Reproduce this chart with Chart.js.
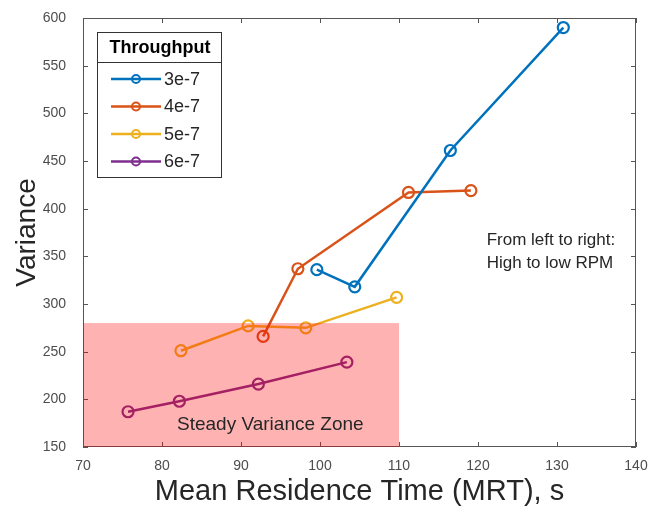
<!DOCTYPE html>
<html>
<head>
<meta charset="utf-8">
<script src="https://cdn.jsdelivr.net/npm/chart.js@4/dist/chart.umd.min.js"></script>
<style>
  html, body { margin: 0; padding: 0; background: #fff; }
  #wrap { width: 649px; height: 511px; }
</style>
</head>
<body>
<div id="wrap"><canvas id="mrtChart" width="649" height="511"></canvas></div>
<script>
// values
var seriesLabels = ['3e-7', '4e-7', '5e-7', '6e-7'];
var mrt3 = [99.6, 104.4, 116.5, 130.8];
var var3 = [336, 318, 461, 590];
var mrt4 = [92.8, 97.2, 111.2, 119.1];
var var4 = [266, 337, 417, 419];
var mrt5 = [82.4, 90.9, 98.2, 109.7];
var var5 = [251, 277, 275, 307];
var mrt6 = [75.7, 82.2, 92.2, 103.4];
var var6 = [187, 198, 216, 239];
var xTicks = [70, 80, 90, 100, 110, 120, 130, 140];
var yTicks = [150, 200, 250, 300, 350, 400, 450, 500, 550, 600];
var zoneX = [70, 110];
var zoneY = [150, 280];

var colors = ['#0072BD', '#D95319', '#EDB120', '#7E2F8E'];
var FONT = '"Liberation Sans", Arial, Helvetica, sans-serif';

function pts(xs, ys) {
    return xs.map(function(x, i) { return { x: x, y: ys[i] }; });
}

function makeSet(i, xs, ys) {
    return {
        label: seriesLabels[i],
        data: pts(xs, ys),
        borderColor: colors[i],
        backgroundColor: 'rgba(0,0,0,0)',
        pointBorderColor: colors[i],
        pointBackgroundColor: 'rgba(0,0,0,0)',
        borderWidth: 2.5,
        pointRadius: 5.5,
        pointBorderWidth: 2.2,
        fill: false,
        tension: 0
    };
}

// frame with inward ticks, drawn before the lines so the zone tints it
var framePlugin = {
    id: 'frame',
    beforeDatasetsDraw: function(chart) {
        var c = chart.ctx, a = chart.chartArea;
        var xs = chart.scales.x, ys = chart.scales.y;
        c.save();
        c.strokeStyle = '#555555';
        c.lineWidth = 1;
        c.strokeRect(a.left + 0.5, a.top + 0.5, a.right - a.left - 1, a.bottom - a.top - 1);
        c.beginPath();
        xTicks.forEach(function(v) {
            var px = Math.round(xs.getPixelForValue(v)) + 0.5;
            c.moveTo(px, a.bottom); c.lineTo(px, a.bottom - 5);
            c.moveTo(px, a.top); c.lineTo(px, a.top + 5);
        });
        yTicks.forEach(function(v) {
            var py = Math.round(ys.getPixelForValue(v)) + 0.5;
            c.moveTo(a.left, py); c.lineTo(a.left + 5, py);
            c.moveTo(a.right, py); c.lineTo(a.right - 5, py);
        });
        c.stroke();
        c.restore();
    }
};

// shaded zone over the lines, plus the two notes
var zonePlugin = {
    id: 'zone',
    afterDatasetsDraw: function(chart) {
        var c = chart.ctx;
        var xs = chart.scales.x, ys = chart.scales.y;
        var x0 = xs.getPixelForValue(zoneX[0]), x1 = xs.getPixelForValue(zoneX[1]);
        var y0 = ys.getPixelForValue(zoneY[1]), y1 = ys.getPixelForValue(zoneY[0]);
        c.save();
        c.fillStyle = 'rgba(255,0,0,0.3)';
        c.fillRect(x0, y0, x1 - x0, y1 - y0);

        c.fillStyle = '#262626';
        c.textBaseline = 'middle';
        c.textAlign = 'left';
        c.font = '19px ' + FONT;
        c.fillText('Steady Variance Zone', xs.getPixelForValue(81.9), ys.getPixelForValue(173));
        c.font = '17px ' + FONT;
        c.fillText('From left to right:', xs.getPixelForValue(121.1), ys.getPixelForValue(367));
        c.fillText('High to low RPM', xs.getPixelForValue(121.1), ys.getPixelForValue(343));
        c.restore();
    }
};

// boxed legend with a title, like the original
var legendPlugin = {
    id: 'boxLegend',
    afterDraw: function(chart) {
        var c = chart.ctx;
        var left = 97, top = 32, w = 124, h = 145;
        c.save();
        c.fillStyle = '#ffffff';
        c.fillRect(left, top, w, h);
        c.strokeStyle = '#333333';
        c.lineWidth = 1;
        c.strokeRect(left + 0.5, top + 0.5, w, h);
        c.beginPath();
        c.moveTo(left, top + 30.5); c.lineTo(left + w, top + 30.5);
        c.stroke();

        c.fillStyle = '#000000';
        c.font = 'bold 18px ' + FONT;
        c.textAlign = 'center';
        c.textBaseline = 'middle';
        c.fillText('Throughput', left + w / 2 + 1, top + 16);

        c.font = '18px ' + FONT;
        c.textAlign = 'left';
        chart.data.datasets.forEach(function(ds, i) {
            var y = 79 + i * 27.5;
            c.strokeStyle = ds.borderColor;
            c.lineWidth = 2.5;
            c.beginPath();
            c.moveTo(111, y); c.lineTo(161, y);
            c.stroke();
            c.lineWidth = 2;
            c.beginPath();
            c.arc(136, y, 4, 0, Math.PI * 2);
            c.stroke();
            c.fillStyle = '#262626';
            c.fillText(ds.label, 164, y + 1);
        });
        c.restore();
    }
};

document.addEventListener('DOMContentLoaded', function() {
    var ctx = document.getElementById('mrtChart').getContext('2d');
    var mrtChart = new Chart(ctx, {
        type: 'line',
        data: {
            datasets: [
                makeSet(0, mrt3, var3),
                makeSet(1, mrt4, var4),
                makeSet(2, mrt5, var5),
                makeSet(3, mrt6, var6)
            ]
        },
        options: {
            responsive: false,
            animation: false,
            layout: { padding: { top: 18, right: 13, left: 0, bottom: 0 } },
            scales: {
                x: {
                    type: 'linear',
                    min: 70,
                    max: 140,
                    grid: { display: false },
                    border: { display: false },
                    ticks: {
                        stepSize: 10,
                        padding: 3,
                        color: '#4d4d4d',
                        font: { family: FONT, size: 14 }
                    },
                    title: {
                        display: true,
                        text: 'Mean Residence Time (MRT), s',
                        color: '#262626',
                        font: { family: FONT, size: 29 },
                        padding: { top: 0, bottom: 2 }
                    },
                    afterFit: function(s) {
                        s.height = 64;
                        s.paddingLeft = 0;
                        s.paddingRight = 0;
                    }
                },
                y: {
                    min: 150,
                    max: 600,
                    grid: { display: false },
                    border: { display: false },
                    ticks: {
                        stepSize: 50,
                        padding: 9,
                        color: '#4d4d4d',
                        font: { family: FONT, size: 14 }
                    },
                    title: {
                        display: true,
                        text: 'Variance',
                        color: '#262626',
                        font: { family: FONT, size: 28 },
                        padding: { top: 10, bottom: 0 }
                    },
                    afterFit: function(s) {
                        s.width = 83;
                        s.paddingTop = 0;
                        s.paddingBottom = 0;
                    }
                }
            },
            plugins: {
                legend: { display: false },
                tooltip: { enabled: false }
            }
        },
        plugins: [framePlugin, zonePlugin, legendPlugin]
    });
});
</script>
</body>
</html>
